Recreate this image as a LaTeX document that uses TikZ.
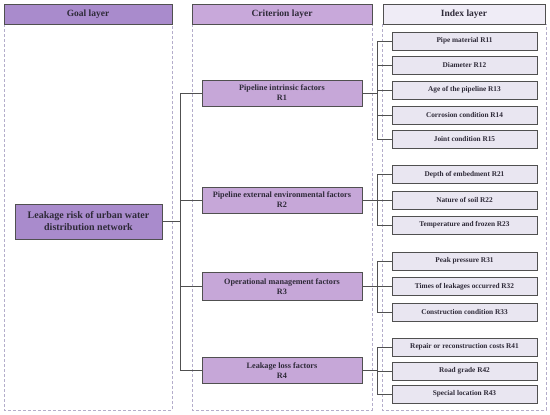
\documentclass[tikz,border=0pt]{standalone}
\usepackage{fontspec}
\setmainfont{Liberation Serif}
\definecolor{goalc}{HTML}{A98BCC}
\definecolor{critc}{HTML}{C8A8DA}
\definecolor{critb}{HTML}{C6A7D8}
\definecolor{idxh}{HTML}{EFECF6}
\definecolor{idxb}{HTML}{E9E6F1}
\definecolor{dashc}{HTML}{B4ADCB}
\definecolor{linec}{HTML}{505050}
\definecolor{txtc}{HTML}{2E2A38}
\begin{document}
\begin{tikzpicture}[x=1pt,y=-1pt,
  box/.style={draw=linec,line width=0.8pt,inner sep=1pt,align=center,text=txtc,font=\bfseries},
  hdr/.style={box,minimum height=20pt,font=\bfseries\fontsize{9.5}{11}\selectfont},
  goalbox/.style={box,fill=goalc,minimum width=147pt,minimum height=35pt,font=\bfseries\fontsize{10}{12}\selectfont},
  critbox/.style={box,fill=critb,minimum width=160pt,minimum height=26pt,font=\bfseries\fontsize{8.2}{10}\selectfont},
  idxbox/.style={box,fill=idxb,minimum width=145pt,minimum height=18pt,font=\bfseries\fontsize{7.3}{9}\selectfont},
  col/.style={draw=dashc,dash pattern=on 3pt off 2pt,line width=0.7pt},
  conn/.style={draw=linec,line width=0.8pt}]
\useasboundingbox (0,0) rectangle (550,415);
% dashed columns
\draw[col] (4,24) rectangle (172,410);
\draw[col] (192,24) rectangle (372,410);
\draw[col] (382,24) rectangle (546,410);
% headers
\node[hdr,fill=goalc,minimum width=168pt] (h1) at (88,14) {Goal layer};
\node[hdr,fill=critc,minimum width=180pt] (h2) at (282,14) {Criterion layer};
\node[hdr,fill=idxh,minimum width=162pt] (h3) at (464,14) {Index layer};
% goal
\node[goalbox] (g) at (88.5,221.5) {Leakage risk of urban water\\distribution network};
% criteria
\node[critbox] (r1) at (282,93) {Pipeline intrinsic factors\\R1};
\node[critbox] (r2) at (282,200) {Pipeline external environmental factors\\R2};
\node[critbox,minimum height=28pt] (r3) at (282,286.5) {Operational management factors\\R3};
\node[critbox] (r4) at (282,370.5) {Leakage loss factors\\R4};
% indices
\node[idxbox] (r11) at (464.5,41) {Pipe material R11};
\node[idxbox] (r12) at (464.5,65) {Diameter R12};
\node[idxbox] (r13) at (464.5,90) {Age of the pipeline R13};
\node[idxbox] (r14) at (464.5,115) {Corrosion condition R14};
\node[idxbox] (r15) at (464.5,139) {Joint condition R15};
\node[idxbox] (r21) at (464.5,174.5) {Depth of embedment R21};
\node[idxbox] (r22) at (464.5,200) {Nature of soil R22};
\node[idxbox] (r23) at (464.5,225) {Temperature and frozen R23};
\node[idxbox] (r31) at (464.5,261) {Peak pressure R31};
\node[idxbox] (r32) at (464.5,286.5) {Times of leakages occurred R32};
\node[idxbox] (r33) at (464.5,312) {Construction condition R33};
\node[idxbox] (r41) at (464.5,347) {Repair or reconstruction costs R41};
\node[idxbox] (r42) at (464.5,371) {Road grade R42};
\node[idxbox] (r43) at (464.5,394) {Special location R43};
% connectors
\coordinate (tr) at (180,0);
\coordinate (br) at (377,0);
\draw[conn] (g.east) -- (g.east -| tr);
\draw[conn] (r1.west -| tr) -- (r4.west -| tr);
\foreach \r in {r1,r2,r3,r4} \draw[conn] (\r.west -| tr) -- (\r.west);
\foreach \r/\a/\b in {r1/r11/r15,r2/r21/r23,r3/r31/r33,r4/r41/r43} {
  \draw[conn] (\r.east) -- (\r.east -| br);
  \draw[conn] (\a.west -| br) -- (\b.west -| br);
}
\foreach \c in {r11,r12,r13,r14,r15,r21,r22,r23,r31,r32,r33,r41,r42,r43}
  \draw[conn] (\c.west -| br) -- (\c.west);
\end{tikzpicture}
\end{document}
